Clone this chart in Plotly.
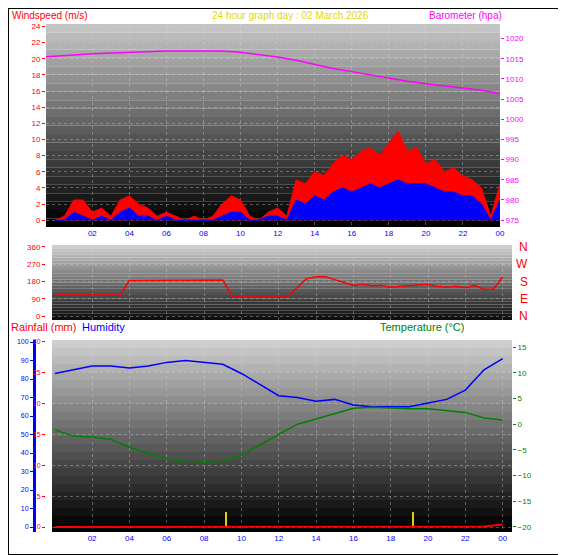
import plotly.graph_objects as go

# half-hourly wind readings (m/s)
wind_hours = [0, 0.5, 1, 1.5, 2, 2.5, 3, 3.5, 4, 4.5, 5, 5.5, 6, 6.5, 7, 7.5, 8, 8.5, 9, 9.5,
              10, 10.5, 11, 11.5, 12, 12.5, 13, 13.5, 14, 14.5, 15, 15.5, 16, 16.5, 17, 17.5,
              18, 18.5, 19, 19.5, 20, 20.5, 21, 21.5, 22, 22.5, 23, 23.5, 24]
wind_gust = [0, 0.5, 2.5, 2.5, 1, 1.5, 0.5, 2.5, 3, 2, 1.5, 0.5, 1, 0.5, 0, 0.5, 0, 0.5, 2, 3,
             2.5, 0.5, 0, 1, 1.5, 0.5, 5, 4.5, 6, 5.5, 7, 8, 7.5, 8.5, 9, 8, 9.5, 11, 8.5, 9,
             7, 7.5, 6, 6.5, 5.5, 5, 4, 0.5, 4.5]
wind_avg = [0, 0, 1, 0.5, 0, 0.5, 0, 1, 1.5, 0.5, 0.5, 0, 0.5, 0, 0, 0, 0, 0, 0.5, 1,
            1, 0, 0, 0.5, 0.5, 0, 2.5, 2, 3, 2.5, 3.5, 4, 3.5, 4, 4.5, 4, 4.5, 5, 4.5, 4.5,
            4.5, 4, 3.5, 3.5, 3, 3, 2, 0, 2.5]
wind_dir = [110, 110, 110, 110, 110, 110, 110, 110, 185, 185, 185, 185, 185, 185, 185, 188, 188,
            188, 188, 105, 105, 105, 105, 105, 105, 105, 150, 195, 205, 205, 190, 175, 160, 165,
            158, 160, 150, 155, 160, 162, 165, 155, 150, 155, 148, 160, 140, 140, 205]

baro_hours = [-0.5, 0, 1, 2, 3, 4, 5, 6, 7, 8, 9, 10, 11, 12, 13, 14, 15, 16, 17, 18, 19, 20,
              21, 22, 23, 24]
baro = [1015.5, 1015.6, 1015.9, 1016.2, 1016.4, 1016.6, 1016.8, 1016.9, 1016.9, 1016.9, 1016.9,
        1016.6, 1016.0, 1015.4, 1014.6, 1013.6, 1012.6, 1011.8, 1011.0, 1010.3, 1009.4, 1008.8,
        1008.3, 1007.8, 1007.2, 1006.4]

hours = [0, 1, 2, 3, 4, 5, 6, 7, 8, 9, 10, 11, 12, 13, 14, 15, 16, 17, 18, 19, 20, 21, 22, 23, 24]
humidity = [83, 85, 87, 87, 86, 87, 89, 90, 89, 88, 83, 77, 71, 70, 68, 69, 66, 65, 65, 65, 67,
            69, 74, 85, 91]
temperature = [-1.1, -2.3, -2.5, -3, -4.5, -5.6, -6.8, -7.2, -7.4, -7.2, -6, -4, -2, 0, 1, 2,
               3.1, 3.3, 3.1, 3, 3, 2.7, 2.3, 1.2, 0.8]
rainfall = [0, 0, 0, 0, 0, 0, 0, 0, 0, 0, 0, 0, 0, 0, 0, 0, 0, 0, 0, 0, 0, 0, 0, 0.1, 0.4]
rain_rate_hours = [9.2, 19.2]
rain_rate = [2.4, 2.4]

time_ticks = [2, 4, 6, 8, 10, 12, 14, 16, 18, 20, 22, 24]
time_labels = ["02", "04", "06", "08", "10", "12", "14", "16", "18", "20", "22", "00"]

# the page puts the figure 8px in from the top-left corner
OFF = 8
W, H = 566 - OFF, 555 - OFF
FONT = "Liberation Sans"


def px_x(v):
    return (v - OFF) / W


def px_y(v):
    return 1 - (v - OFF) / H


fig = go.Figure()
fig.add_trace(go.Scatter(x=wind_hours, y=wind_gust, fill="tozeroy", line=dict(color="#ff0000", width=1),
                         fillcolor="#ff0000", xaxis="x", yaxis="y"))
fig.add_trace(go.Scatter(x=wind_hours, y=wind_avg, fill="tozeroy", line=dict(color="#0000ff", width=1),
                         fillcolor="#0000ff", xaxis="x", yaxis="y"))
fig.add_trace(go.Scatter(x=baro_hours, y=baro, line=dict(color="#ff00ff", width=1.5), xaxis="x", yaxis="y2"))
fig.add_trace(go.Scatter(x=wind_hours, y=wind_dir, line=dict(color="#ff0000", width=1.5), xaxis="x2", yaxis="y3"))
fig.add_trace(go.Scatter(x=hours, y=humidity, line=dict(color="#0000ff", width=1.5), xaxis="x3", yaxis="y5"))
fig.add_trace(go.Scatter(x=hours, y=temperature, line=dict(color="#008000", width=1.5), xaxis="x3", yaxis="y6"))
fig.add_trace(go.Scatter(x=hours, y=rainfall, line=dict(color="#ff0000", width=2), xaxis="x3", yaxis="y4"))
fig.add_trace(go.Bar(x=rain_rate_hours, y=rain_rate, width=0.08, marker=dict(color="#e0d000", line_width=0),
                     xaxis="x3", yaxis="y4"))

tickfont = dict(family=FONT, size=8)
grid = dict(showgrid=True, gridcolor="rgba(220,220,220,0.35)", griddash="dot", gridwidth=1,
            zeroline=False, automargin=False)
noauto = dict(automargin=False)

fig.update_layout(
    width=W, height=H, showlegend=False, paper_bgcolor="white", plot_bgcolor="rgba(0,0,0,0)",
    margin=dict(l=0, r=0, t=0, b=0, autoexpand=False), bargap=0,
    xaxis=dict(domain=[px_x(46), px_x(500)], range=[-0.5, 24], anchor="y", tickvals=time_ticks,
               ticktext=time_labels, tickfont=dict(color="#0000ff", **tickfont), ticks="", **grid),
    yaxis=dict(domain=[px_y(227), px_y(24)], range=[-0.84, 24.3], tickvals=list(range(0, 25, 2)),
               tickfont=dict(color="#ff0000", **tickfont), ticks="outside", ticklen=3, tickcolor="#ff0000",
               **grid),
    yaxis2=dict(overlaying="y", side="right", anchor="x", range=[973.3, 1023.6],
                tickvals=list(range(975, 1021, 5)), tickfont=dict(color="#ff00ff", **tickfont),
                ticks="outside", ticklen=3, tickcolor="#ff00ff", showgrid=False, zeroline=False, **noauto),
    xaxis2=dict(domain=[px_x(52), px_x(512)], range=[-0.15, 24.5], anchor="y3", tickvals=time_ticks,
                showticklabels=False, ticks="", **grid),
    yaxis3=dict(domain=[px_y(320), px_y(245)], range=[-20, 370], tickvals=[0, 90, 180, 270, 360],
                tickfont=dict(color="#ff0000", **tickfont), ticks="outside", ticklen=3, tickcolor="#ff0000",
                **grid),
    xaxis3=dict(domain=[px_x(52), px_x(512)], range=[-0.15, 24.5], anchor="y4", tickvals=time_ticks,
                ticktext=time_labels, tickfont=dict(color="#0000ff", **tickfont), ticks="", **grid),
    yaxis4=dict(domain=[px_y(532), px_y(340)], range=[-0.81, 30.3], tickvals=list(range(0, 31, 5)),
                tickfont=dict(color="#ff0000", family=FONT, size=7), ticks="outside", ticklen=3,
                tickcolor="#ff0000", **grid),
    yaxis5=dict(overlaying="y4", anchor="free", position=px_x(34), side="left", range=[-2.7, 101.1],
                tickvals=list(range(0, 101, 10)), tickfont=dict(color="#0000ff", family=FONT, size=7),
                showline=True, linecolor="#0000ff", linewidth=3, ticks="outside", ticklen=3,
                tickcolor="#0000ff", showgrid=False, zeroline=False, **noauto),
    yaxis6=dict(overlaying="y4", side="right", anchor="x3", range=[-21, 16.4],
                tickvals=list(range(-20, 16, 5)), tickfont=dict(color="#008000", **tickfont),
                ticks="outside", ticklen=3, tickcolor="#008000", showgrid=False, zeroline=False, **noauto),
)

# gradient backgrounds
shapes = []
for xr, yr, top, bot in [("x", "y", 195, 0), ("x2", "y3", 205, 15), ("x3", "y4", 205, 0)]:
    n = 24
    for i in range(n):
        g = int(top + (bot - top) * i / (n - 1))
        shapes.append(dict(type="rect", xref=xr + " domain", yref=yr + " domain", x0=0, x1=1,
                           y0=1 - (i + 1) / n, y1=1 - i / n, fillcolor=f"rgb({g},{g},{g})",
                           line_width=0, layer="below"))
shapes.append(dict(type="rect", xref="paper", yref="paper", x0=0, x1=1, y0=0, y1=1,
                   line=dict(color="black", width=2)))
fig.update_layout(shapes=shapes)

ann = [
    ("Windspeed (m/s)", 10, 8, "#ff0000", "left"),
    ("24 hour graph day : 02 March 2026", 290, 8, "#e6d800", "center"),
    ("Barometer (hpa)", 504, 8, "#ff00ff", "right"),
    ("Rainfall (mm)", 9, 327, "#ff0000", "left"),
    ("Humidity", 80, 327, "#0000ff", "left"),
    ("Temperature (°C)", 378, 327, "#008000", "left"),
]
for text, x, y, color, align in ann:
    fig.add_annotation(text=text, x=px_x(x), y=px_y(y), xref="paper", yref="paper", showarrow=False,
                       xanchor=align, yanchor="top" if y < 20 else "middle",
                       font=dict(family=FONT, size=10 if y < 20 else 11, color=color))
for lbl, v in zip(["N", "W", "S", "E", "N"], [360, 270, 180, 90, 0]):
    fig.add_annotation(text=lbl, x=px_x(530), y=v, xref="paper", yref="y3", showarrow=False,
                       font=dict(family=FONT, size=12, color="#ff0000"))

fig.write_html("out.html")
